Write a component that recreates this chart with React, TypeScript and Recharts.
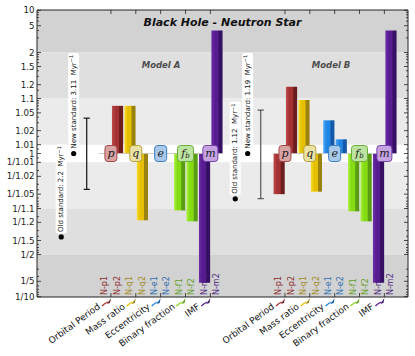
import React, { useLayoutEffect, useRef, useState } from "react";
import {
  Bar,
  Cell,
  ComposedChart,
  ReferenceArea,
  ReferenceDot,
  ReferenceLine,
  XAxis,
  YAxis,
} from "recharts";

const FONT = "DejaVu Sans, sans-serif";
const INK = "#222222";

// one entry per bar, same order in both models
const SLOT_NAMES = ["N-p1", "N-p2", "N-q1", "N-q2", "N-e1", "N-e2", "N-f1", "N-f2", "N-m1", "N-m2"];
const GROUP_KEYS = ["p", "q", "e", "f", "m"];
const GROUP_NAMES = ["Orbital Period", "Mass ratio", "Eccentricity", "Binary fraction", "IMF"];
const MODEL_NAMES = ["Model A", "Model B"];

// rate ratio vs. new standard (1 = no change)
const MODEL_A = [1, 1.07, 1.07, 1 / 1.18, 1, 1, 1 / 1.11, 1 / 1.19, 1 / 5.3, 4.0];
const MODEL_B = [1 / 1.05, 1.18, 1.093, 1 / 1.044, 1.034, 1.013, 1 / 1.115, 1 / 1.19, 1 / 5.3, 4.0];

const OLD_STANDARD = [2.2, 1.12];
const NEW_STANDARD = [3.11, 1.19];
const ERR_LOW = [1 / 1.039, 1 / 1.062];
const ERR_HIGH = [1.038, 1.057];

const Y_TICKS = [10, 5, 2, 1.5, 1.2, 1.1, 1.05, 1.02, 1.01, 1, 1 / 1.01, 1 / 1.02, 1 / 1.05, 1 / 1.1, 1 / 1.2, 1 / 1.5, 1 / 2, 1 / 5, 1 / 10];
const Y_LABELS = ["10", "5", "2", "1.5", "1.2", "1.1", "1.05", "1.02", "1.01", "1", "1/1.01", "1/1.02", "1/1.05", "1/1.1", "1/1.2", "1/1.5", "1/2", "1/5", "1/10"];
const Y_MINOR = [9, 8, 7, 6, 4, 3, 1.9, 1.8, 1.7, 1.6, 1.4, 1.3, 1.15, 1.09, 1.08, 1.07, 1.06, 1.04, 1.03, 1.015, 1.005];

// stretched log(log) axis: each stop value sits at a fixed axis unit
const SCALE_VALUES = [1.01, 1.02, 1.05, 1.1, 1.2, 1.5, 2, 5, 10];
const SCALE_UNITS = [8.85, 22.85, 40.65, 55, 68.85, 87, 101, 127.8, 143.15];
const Y_DOMAIN: [number, number] = [-143.5, 143.5];

function toAxis(v: number): number {
  const l = Math.log(v);
  const s = l < 0 ? -1 : 1;
  const u = Math.abs(l);
  const u0 = Math.log(SCALE_VALUES[0]);
  if (u <= u0) return (s * SCALE_UNITS[0] * u) / u0;
  let i = 0;
  while (i < SCALE_VALUES.length - 2 && u > Math.log(SCALE_VALUES[i + 1])) i++;
  const a = Math.log(SCALE_VALUES[i]);
  const b = Math.log(SCALE_VALUES[i + 1]);
  const f = Math.log(u / a) / Math.log(b / a);
  return s * (SCALE_UNITS[i] + f * (SCALE_UNITS[i + 1] - SCALE_UNITS[i]));
}

const B_START = 14;
const X_DOMAIN: [number, number] = [-5.45, 24.4];

const GROUP_FILL: Record<string, string[]> = {
  p: ["#c04d4d", "#a53232", "#6c1d1d"],
  q: ["#f8dc30", "#e6c000", "#9a8210"],
  e: ["#4ea6f6", "#1f86e6", "#145aa6"],
  f: ["#aaf240", "#86dc14", "#5a9c12"],
  m: ["#6e30a8", "#571b92", "#361062"],
};
const GROUP_TEXT: Record<string, string> = {
  p: "#8c2e2e",
  q: "#a08b1c",
  e: "#2d6fb3",
  f: "#5f9e25",
  m: "#4b1f80",
};
const BADGE: Record<string, string[]> = {
  p: ["#d9a3a3", "#a5484a"],
  q: ["#ebe2a6", "#b6a03c"],
  e: ["#a9c9ea", "#3c7dc0"],
  f: ["#bde3a0", "#6aad38"],
  m: ["#c5a3e3", "#7443a8"],
};

const rows = [
  ...MODEL_A.map((v, i) => ({ x: i, t: toAxis(v), g: GROUP_KEYS[i >> 1] })),
  ...MODEL_B.map((v, i) => ({ x: B_START + i, t: toAxis(v), g: GROUP_KEYS[i >> 1] })),
];
const slotTicks = rows.map((r) => r.x);
const pairTicks = [0, 1].flatMap((m) => GROUP_KEYS.map((_, g) => m * B_START + 2 * g + 0.5));
const bottomTicks = [...slotTicks, ...pairTicks].sort((a, b) => a - b);

const yLabelByT = new Map<string, string>();
Y_TICKS.forEach((v, i) => yLabelByT.set(toAxis(v).toFixed(3), Y_LABELS[i]));
const yTicks = [
  ...Y_TICKS.map(toAxis),
  ...Y_MINOR.flatMap((v) => [v, 1 / v]).map(toAxis),
];

function LeftTick(props: any) {
  const { x, y, payload } = props;
  const label = yLabelByT.get(Number(payload.value).toFixed(3));
  return (
    <g>
      <line x1={x} x2={x + (label ? 4 : 2)} y1={y} y2={y} stroke={INK} strokeWidth={0.8} />
      {label && (
        <text x={x - 2.5} y={y} textAnchor="end" dominantBaseline="central" fontSize={8.7} fill={INK} fontFamily={FONT}>
          {label}
        </text>
      )}
    </g>
  );
}

function RightTick(props: any) {
  const { x, y, payload } = props;
  const major = yLabelByT.has(Number(payload.value).toFixed(3));
  return <line x1={x} x2={x - (major ? 4 : 2)} y1={y} y2={y} stroke={INK} strokeWidth={0.8} />;
}

function SlotLabel({ x, y, v }: { x: number; y: number; v: number }) {
  const i = v >= B_START ? v - B_START : v;
  const ty = y - 2;
  return (
    <text
      x={x}
      y={ty}
      transform={`rotate(-90 ${x} ${ty})`}
      dominantBaseline="central"
      fontSize={8}
      fill={GROUP_TEXT[GROUP_KEYS[i >> 1]]}
      fontFamily={FONT}
    >
      {SLOT_NAMES[i]}
    </text>
  );
}

function GroupLabel({ x, y, v }: { x: number; y: number; v: number }) {
  const g = Math.floor((v % B_START) / 2);
  const key = GROUP_KEYS[g];
  const tx = x - 10;
  const ty = y + 11;
  return (
    <g>
      <line x1={x} x2={x} y1={y} y2={y - 4} stroke={INK} strokeWidth={0.8} />
      <path d={`M${x - 9},${y + 9} Q${x - 6},${y + 6} ${x - 3},${y + 5}`} stroke={GROUP_FILL[key][1]} strokeWidth={1.3} fill="none" />
      <path d={`M${x - 4},${y + 7} L${x},${y + 1} L${x - 1},${y + 6} Z`} fill={GROUP_FILL[key][2]} />
      <text x={tx} y={ty} textAnchor="end" transform={`rotate(-36 ${tx} ${ty})`} fontSize={9} fill="#111" fontFamily={FONT}>
        {GROUP_NAMES[g]}
      </text>
    </g>
  );
}

function BottomTick(props: any) {
  const { x, y, payload } = props;
  const v = Number(payload.value);
  return Number.isInteger(v) ? <SlotLabel x={x} y={y} v={v} /> : <GroupLabel x={x} y={y} v={v} />;
}

function TopTick(props: any) {
  const { x, y } = props;
  return <line x1={x} x2={x} y1={y} y2={y + 4} stroke={INK} strokeWidth={0.8} />;
}

function StdNote({ cx, cy, label, rate }: { cx: number; cy: number; label: string; rate: number }) {
  const ref = useRef<SVGTextElement>(null);
  const [len, setLen] = useState(86);
  useLayoutEffect(() => {
    if (ref.current) setLen(ref.current.getComputedTextLength());
  }, []);
  const ty = cy - 5;
  return (
    <g>
      <g transform={`rotate(-90 ${cx} ${ty})`}>
        <rect x={cx - 1.5} y={ty - 5.5} width={len + 3.5} height={11} rx={2} fill="#ffffff" />
        <text
          ref={ref}
          x={cx}
          y={ty}
          dominantBaseline="central"
          fontSize={7}
          fill="#111"
          fontFamily={FONT}
          style={{ whiteSpace: "pre" }}
        >
          {`${label}: ${rate}  Myr`}
          <tspan dy={-2.5} fontSize={5}>
            −1
          </tspan>
        </text>
      </g>
      <circle cx={cx} cy={cy} r={2.6} fill="#000" />
    </g>
  );
}

function Badge({ cx, cy, g }: { cx: number; cy: number; g: string }) {
  const w = g === "f" ? 16 : g === "m" ? 15 : 12;
  const h = 16;
  return (
    <g>
      <rect x={cx - w / 2} y={cy - h / 2} width={w} height={h} rx={3} fill={BADGE[g][0]} stroke={BADGE[g][1]} strokeWidth={1} />
      <text
        x={cx}
        y={cy}
        textAnchor="middle"
        dominantBaseline="central"
        fontSize={11}
        fontStyle="italic"
        fontFamily="DejaVu Serif, serif"
        fill="#1a1a1a"
      >
        {g}
        {g === "f" && (
          <tspan fontSize={7} dy={2}>
            b
          </tspan>
        )}
      </text>
    </g>
  );
}

const BANDS: [number, number, string][] = [
  [toAxis(2), Y_DOMAIN[1], "#d2d2d2"],
  [toAxis(1.1), toAxis(2), "#dfdfdf"],
  [toAxis(1.01), toAxis(1.1), "#ebebeb"],
  [toAxis(1 / 1.1), toAxis(1 / 1.01), "#ebebeb"],
  [toAxis(1 / 2), toAxis(1 / 1.1), "#dfdfdf"],
  [Y_DOMAIN[0], toAxis(1 / 2), "#d2d2d2"],
];

const AX = { xAxisId: "slots", yAxisId: "left" };

export default function App() {
  return (
    <div style={{ position: "absolute", left: 0, top: 0, width: 415, height: 356, background: "#fff", fontFamily: FONT }}>
      <ComposedChart width={415} height={356} data={rows} margin={{ top: 9, right: 0, bottom: 0, left: 0 }}>
        <defs>
          {GROUP_KEYS.map((k) => (
            <linearGradient key={k} id={`grad-${k}`} x1="0" y1="0" x2="1" y2="0">
              <stop offset="0" stopColor={GROUP_FILL[k][0]} />
              <stop offset="0.3" stopColor={GROUP_FILL[k][1]} />
              <stop offset="0.6" stopColor={GROUP_FILL[k][1]} />
              <stop offset="0.68" stopColor={GROUP_FILL[k][2]} />
              <stop offset="1" stopColor={GROUP_FILL[k][2]} />
            </linearGradient>
          ))}
        </defs>
        {BANDS.map(([y1, y2, c], i) => (
          <ReferenceArea key={i} {...AX} y1={y1} y2={y2} fill={c} fillOpacity={1} stroke="none" />
        ))}
        {[0, B_START].map((s) => (
          <ReferenceLine
            key={s}
            {...AX}
            segment={[{ x: s - 0.5, y: 0 }, { x: s + 9.5, y: 0 }]}
            stroke="#c4c4c4"
            strokeWidth={0.8}
          />
        ))}
        <Bar {...AX} dataKey="t" barSize={12.43} isAnimationActive={false}>
          {rows.map((r) => (
            <Cell key={r.x} fill={`url(#grad-${r.g})`} />
          ))}
        </Bar>
        {[0, 1].flatMap((m) => {
          const ex = m * B_START - 1.45;
          const lo = toAxis(ERR_LOW[m]);
          const hi = toAxis(ERR_HIGH[m]);
          const c = m === 0 ? "#111" : "#555";
          return [
            <ReferenceLine key={`e${m}`} {...AX} segment={[{ x: ex, y: lo }, { x: ex, y: hi }]} stroke={c} strokeWidth={1.2} />,
            <ReferenceLine key={`l${m}`} {...AX} segment={[{ x: ex - 0.25, y: lo }, { x: ex + 0.25, y: lo }]} stroke={c} strokeWidth={1.2} />,
            <ReferenceLine key={`h${m}`} {...AX} segment={[{ x: ex - 0.25, y: hi }, { x: ex + 0.25, y: hi }]} stroke={c} strokeWidth={1.2} />,
          ];
        })}
        {[0, 1].flatMap((m) => [
          <ReferenceDot
            key={`old${m}`}
            {...AX}
            x={m * B_START - 3.5}
            y={toAxis(OLD_STANDARD[m] / NEW_STANDARD[m])}
            r={3}
            shape={(p: any) => <StdNote cx={p.cx} cy={p.cy} label="Old standard" rate={OLD_STANDARD[m]} />}
          />,
          <ReferenceDot
            key={`new${m}`}
            {...AX}
            x={m * B_START - 2.5}
            y={toAxis(1)}
            r={3}
            shape={(p: any) => <StdNote cx={p.cx} cy={p.cy} label="New standard" rate={NEW_STANDARD[m]} />}
          />,
        ])}
        {pairTicks.map((x, i) => (
          <ReferenceDot
            key={`b${i}`}
            {...AX}
            x={x}
            y={toAxis(1)}
            r={6}
            shape={(p: any) => <Badge cx={p.cx} cy={p.cy} g={GROUP_KEYS[i % 5]} />}
          />
        ))}
        <XAxis xAxisId="slots" dataKey="x" type="number" domain={X_DOMAIN} allowDataOverflow hide />
        <XAxis
          xAxisId="bottom"
          dataKey="x"
          type="number"
          domain={X_DOMAIN}
          allowDataOverflow
          ticks={bottomTicks}
          interval={0}
          height={59}
          tickSize={0}
          tickMargin={0}
          axisLine={{ stroke: INK }}
          tick={(p: any) => <BottomTick {...p} />}
        />
        <XAxis
          xAxisId="top"
          orientation="top"
          dataKey="x"
          type="number"
          domain={X_DOMAIN}
          allowDataOverflow
          ticks={pairTicks}
          interval={0}
          height={1}
          tickSize={0}
          tickMargin={0}
          axisLine={{ stroke: INK }}
          tick={(p: any) => <TopTick {...p} />}
        />
        <YAxis
          yAxisId="left"
          type="number"
          domain={Y_DOMAIN}
          allowDataOverflow
          ticks={yTicks}
          interval={0}
          width={37}
          tickSize={0}
          tickMargin={0}
          axisLine={{ stroke: INK }}
          tick={(p: any) => <LeftTick {...p} />}
        />
        <YAxis
          yAxisId="right"
          orientation="right"
          type="number"
          domain={Y_DOMAIN}
          allowDataOverflow
          ticks={yTicks}
          interval={0}
          width={7}
          tickSize={0}
          tickMargin={0}
          axisLine={{ stroke: INK }}
          tick={(p: any) => <RightTick {...p} />}
        />
      </ComposedChart>
      <svg width={415} height={356} style={{ position: "absolute", left: 0, top: 0, pointerEvents: "none" }}>
        <text x={222.5} y={26} textAnchor="middle" fontSize={11} fontWeight="bold" fontStyle="italic" fill="#111" fontFamily={FONT}>
          Black Hole - Neutron Star
        </text>
        <text x={161} y={67.5} textAnchor="middle" fontSize={8.5} fontWeight="bold" fontStyle="italic" fill="#4d4d4d" fontFamily={FONT}>
          {MODEL_NAMES[0]}
        </text>
        <text x={331} y={67.5} textAnchor="middle" fontSize={8.5} fontWeight="bold" fontStyle="italic" fill="#4d4d4d" fontFamily={FONT}>
          {MODEL_NAMES[1]}
        </text>
      </svg>
    </div>
  );
}
